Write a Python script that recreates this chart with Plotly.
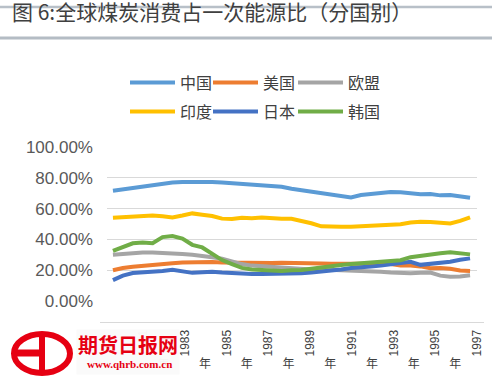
import plotly.graph_objects as go

years = list(range(1980, 2017))

china = [71.6, 72.5, 73.6, 74.7, 75.5, 76.6, 77.0, 77.3, 77.5, 77.5, 77.3, 77.0, 76.6, 76.0,
         75.3, 75.0, 74.7, 74.2, 72.9, 71.9, 71.0, 70.1, 69.3, 68.2, 67.3, 68.8, 69.5, 69.9,
         70.8, 70.6, 69.9, 69.3, 69.5, 68.6, 68.8, 68.0, 67.1]
usa = [20.0, 21.5, 22.3, 23.0, 23.5, 24.2, 24.6, 25.0, 25.3, 25.5, 25.3, 25.0, 24.9, 24.7,
       24.5, 24.5, 24.7, 24.9, 24.9, 24.7, 24.5, 24.3, 24.2, 24.3, 24.3, 24.5, 24.0, 24.2,
       24.0, 23.0, 23.0, 22.5, 21.3, 21.5, 21.0, 19.8, 19.5]
eu = [30.0, 30.7, 31.3, 31.5, 31.5, 31.3, 31.0, 30.5, 30.0, 29.5, 28.5, 27.5, 25.5, 24.0,
      23.0, 22.5, 22.3, 21.5, 21.0, 20.5, 20.5, 20.5, 20.3, 20.3, 19.8, 19.3, 19.3, 19.0,
      18.5, 18.0, 18.0, 18.3, 18.5, 16.5, 15.8, 16.0, 16.8]
india = [54.1, 54.6, 55.2, 55.6, 55.6, 55.0, 54.3, 55.5, 56.9, 56.0, 55.2, 53.5, 53.2, 54.0,
         53.8, 54.3, 53.6, 53.4, 53.4, 52.1, 50.5, 48.5, 48.2, 48.2, 48.3, 48.6, 49.3, 49.8,
         50.0, 49.8, 51.0, 51.5, 51.3, 50.8, 50.4, 52.0, 54.3]
japan = [13.6, 16.5, 18.2, 18.5, 19.0, 19.5, 20.3, 19.0, 18.3, 18.7, 19.0, 18.5, 18.0, 17.7,
         17.5, 17.5, 17.5, 17.5, 17.6, 18.0, 18.5, 19.0, 19.5, 20.5, 21.5, 22.3, 22.5, 23.0,
         23.8, 24.3, 25.5, 23.5, 24.0, 25.0, 25.5, 26.8, 27.7]
korea = [32.5, 35.0, 37.5, 38.0, 37.5, 41.5, 42.2, 40.5, 36.5, 34.8, 31.0, 26.6, 24.0, 21.5,
         20.5, 20.0, 19.5, 19.5, 20.0, 20.1, 21.0, 22.0, 22.5, 23.4, 24.0, 24.5, 24.9, 25.2,
         25.5, 26.5, 28.5, 29.5, 30.3, 31.0, 31.6, 30.7, 30.3]

series_names = ["中国", "美国", "欧盟", "印度", "日本", "韩国"]
series_values = [china, usa, eu, india, japan, korea]
series_colors = ["#5B9BD5", "#ED7D31", "#A5A5A5", "#FFC000", "#4472C4", "#70AD47"]

y_tick_vals = [0.0, 0.2, 0.4, 0.6, 0.8, 1.0]
y_tick_text = ["0.00%", "20.00%", "40.00%", "60.00%", "80.00%", "100.00%"]
x_label_years = [1981, 1983, 1985, 1987, 1989, 1991, 1993, 1995, 1997]
x_label_text = [str(y) for y in x_label_years]

W, H = 500, 377
L, R, T, B = 100, 10, 147, 55
PW = W - L - R
PH = H - T - B


def fx(px):
    return (px - L) / PW


def fy(py):
    return (H - B - py) / PH


legend_ids = ["legend", "legend2", "legend3", "legend4", "legend5", "legend6"]
legend_px = [(125, 82.5), (208, 82.5), (293, 82.5), (125, 111.5), (208, 111.5), (293, 111.5)]

fig = go.Figure()
for i, (name, vals, col) in enumerate(zip(series_names, series_values, series_colors)):
    fig.add_trace(go.Scatter(
        x=years, y=[v / 100 for v in vals], name=name, mode="lines",
        line=dict(color=col, width=4),
        legend=legend_ids[i],
        hoverinfo="skip",
    ))

# helper traces so the label axes exist
fig.add_trace(go.Scatter(x=[None], y=[None], xaxis="x2", yaxis="y", showlegend=False, hoverinfo="skip"))
fig.add_trace(go.Scatter(x=[None], y=[None], xaxis="x3", yaxis="y", showlegend=False, hoverinfo="skip"))
fig.add_trace(go.Scatter(x=[None], y=[None], xaxis="x", yaxis="y2", showlegend=False, hoverinfo="skip"))

ymin = -0.136
x2_range = [1978.93, 1997.33]

legend_layout = {}
for lid, (lx, ly) in zip(legend_ids, legend_px):
    legend_layout[lid] = dict(orientation="h", xanchor="left", yanchor="middle",
                              x=fx(lx), y=fy(ly), itemwidth=45,
                              bgcolor="rgba(0,0,0,0)",
                              font=dict(family="Noto Sans CJK SC", size=16, color="#404040"))

fig.update_layout(
    width=W, height=H,
    margin=dict(l=L, r=R, t=T, b=B, pad=0, autoexpand=False),
    paper_bgcolor="white", plot_bgcolor="rgba(0,0,0,0)",
    title=dict(text="图 6:全球煤炭消费占一次能源比（分国别）", xref="container", yref="container",
               x=0.024, y=1 - 13 / H, xanchor="left", yanchor="middle",
               font=dict(family="Noto Sans CJK SC", size=21, color="#404040")),
    xaxis=dict(domain=[fx(107), fx(477)], range=[1979.4, 2016.7], visible=False),
    xaxis2=dict(domain=[0, fx(484)], range=x2_range, anchor="y", showline=True,
                linecolor="#d9d9d9", linewidth=1, showgrid=False, zeroline=False,
                tickmode="array", tickvals=x_label_years, ticktext=x_label_text,
                tickangle=-90, ticks="", ticklabelstandoff=2,
                tickfont=dict(family="Liberation Sans", size=12, color="#404040")),
    xaxis3=dict(overlaying="x2", range=x2_range, anchor="y", showline=False,
                showgrid=False, zeroline=False,
                tickmode="array", tickvals=x_label_years, ticktext=["年"] * len(x_label_years),
                tickangle=0, ticks="", ticklabelstandoff=33, ticklabelshift=20,
                tickfont=dict(family="Noto Sans CJK SC", size=12, color="#404040")),
    yaxis=dict(range=[ymin, 1.0], anchor="x", showgrid=False, zeroline=False, showline=False,
               tickmode="array", tickvals=y_tick_vals, ticktext=y_tick_text, ticks="",
               ticklabelstandoff=13,
               tickfont=dict(family="Liberation Sans", size=17, color="#595959")),
    yaxis2=dict(range=[ymin, 1.0], overlaying="y", anchor="x", showgrid=True,
                gridcolor="#d9d9d9", gridwidth=1, zeroline=False, showline=False,
                tickmode="array", tickvals=y_tick_vals[1:], showticklabels=False, ticks=""),
    showlegend=True,
    **legend_layout,
)

# title rules
fig.add_shape(type="line", xref="paper", yref="paper", x0=fx(0), x1=fx(492), y0=fy(7), y1=fy(7),
              line=dict(color="#b8c0c8", width=2.5), layer="below")
fig.add_shape(type="line", xref="paper", yref="paper", x0=fx(0), x1=fx(492), y0=fy(38), y1=fy(38),
              line=dict(color="#b4bcc4", width=3))

# watermark logo
red = "#e60012"
fig.add_annotation(xref="paper", yref="paper", x=fx(127.5), y=fy(352), text=" ",
                   xanchor="center", yanchor="middle",
                   showarrow=False, width=100, height=42, bgcolor="rgba(250,250,250,0.97)")
fig.add_shape(type="circle", xref="paper", yref="paper", x0=fx(14), x1=fx(70), y0=fy(334), y1=fy(373),
              line=dict(color=red, width=6))
fig.add_shape(type="line", xref="paper", yref="paper", x0=fx(42), x1=fx(42), y0=fy(333), y1=fy(374),
              line=dict(color=red, width=6))
fig.add_shape(type="line", xref="paper", yref="paper", x0=fx(16), x1=fx(42), y0=fy(353), y1=fy(353),
              line=dict(color=red, width=7))
fig.add_annotation(xref="paper", yref="paper", x=fx(128), y=fy(344), text="<b>期货日报网</b>",
                   xanchor="center", yanchor="middle",
                   showarrow=False, font=dict(family="Noto Sans CJK SC", size=20, color=red))
fig.add_annotation(xref="paper", yref="paper", x=fx(129), y=fy(364), text="<b>www.qhrb.com.cn</b>",
                   xanchor="center", yanchor="middle",
                   showarrow=False, font=dict(family="Liberation Serif", size=11, color=red))

fig.write_html(
    "out.html",
    config={"displayModeBar": False},
    post_script=("document.body.style.margin='0';"
                 "document.body.style.overflow='hidden';"
                 "document.documentElement.style.overflow='hidden';"),
)
